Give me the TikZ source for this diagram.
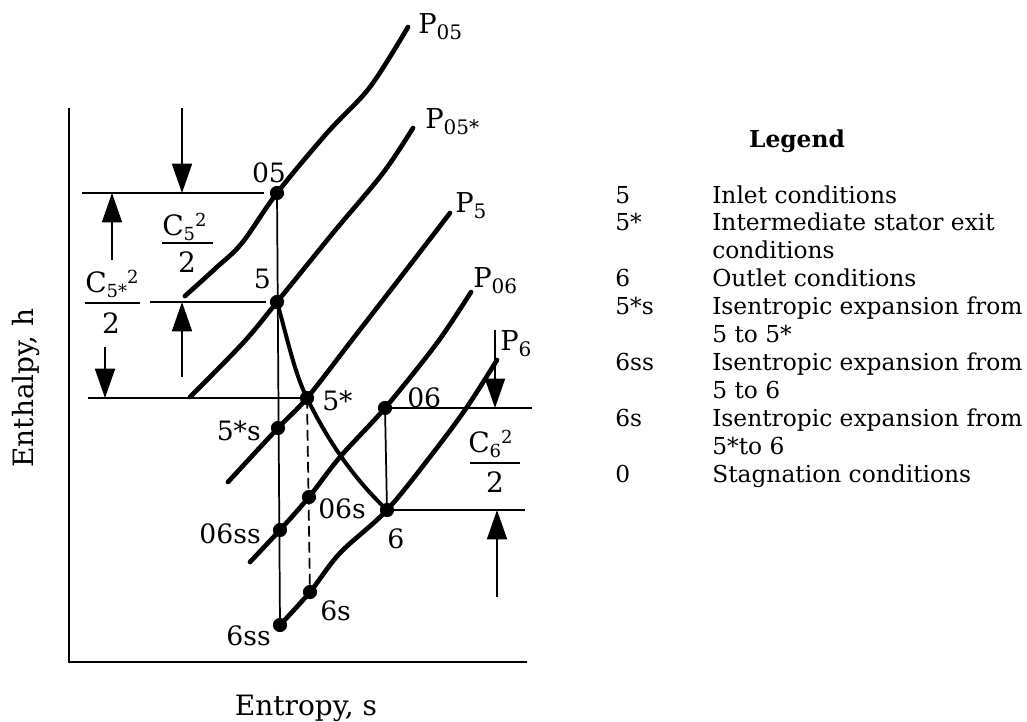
\documentclass[tikz,border=0pt]{standalone}
\usepackage{fontspec}
\setmainfont{DejaVu Serif}
\usetikzlibrary{arrows.meta}
\newcommand\mysubsup[1]{C\raisebox{-3.75pt}{\fontsize{13.5}{14}\selectfont #1}\raisebox{6.5pt}{\fontsize{13.5}{14}\selectfont 2}}
\newcommand\mypsub[1]{P\raisebox{-5pt}{\fontsize{15}{15}\selectfont #1}}
\begin{document}
\begin{tikzpicture}[x=0.75pt,y=-0.75pt,
  isobar/.style={line width=3.5pt,line cap=round,line join=round},
  thinline/.style={line width=1.3pt},
  axisline/.style={line width=1.6pt},
  proc/.style={line width=3pt,line cap=round},
  dim/.style={line width=1.3pt,-{Triangle[length=22pt,width=15pt]}},
  fracbar/.style={line width=1.6pt},
  ptlbl/.style={font=\fontsize{20}{24}\selectfont,inner sep=0pt},
  fraclbl/.style={font=\fontsize{21}{25}\selectfont,inner sep=0pt},
  plbl/.style={font=\fontsize{20.5}{24}\selectfont,inner sep=0pt,anchor=base west},
  axlbl/.style={font=\fontsize{21}{25}\selectfont,inner sep=0pt},
  legkey/.style={font=\fontsize{17.5}{20}\selectfont,inner sep=0pt,anchor=base west},
  legtxt/.style={font=\fontsize{17.5}{20}\selectfont,inner sep=0pt,anchor=base west},
  dotr/.style={fill=black}
]
\useasboundingbox (0,0) rectangle (1027,721);

% state points
\coordinate (c05) at (277,193);
\coordinate (c5) at (277,302);
\coordinate (c5st) at (307,398);
\coordinate (c5sts) at (278,428);
\coordinate (c06) at (385,408);
\coordinate (c06s) at (309,497);
\coordinate (c6) at (387,510);
\coordinate (c06ss) at (280,530);
\coordinate (c6s) at (310,592);
\coordinate (c6ss) at (280,625);

% axes
\coordinate (ytop) at (69,108);
\coordinate (orig) at (69,662);
\coordinate (xend) at (527,662);
\draw[axisline] (ytop) -- (orig) -- (xend);

% thin construction lines
\draw[thinline] (c05) -- (c6ss);
\draw[thinline] (c06) -- (c6);
\draw[thinline,dash pattern=on 8pt off 4pt] (c5st) -- (c6s);
\draw[thinline] (82,193) -- (264,193);
\draw[thinline] (150,302) -- (266,302);
\draw[thinline] (88,398) -- (300,398);
\draw[thinline] (c06) -- (532,408);
\draw[thinline] (c6) -- (525,510);

% isobars
\draw[isobar] plot[smooth,tension=0.55] coordinates {(185,296) (217,267) (242,243) (c05) (327,133) (370,87) (408,27)};
\draw[isobar] plot[smooth,tension=0.55] coordinates {(190,397) (243,343) (c5) (333,233) (383,173) (413,128)};
\draw[isobar] plot[smooth,tension=0.55] coordinates {(228,482) (c5sts) (c5st) (352,340) (400,278) (450,213)};
\draw[isobar] plot[smooth,tension=0.55] coordinates {(250,562) (c06ss) (c06s) (340,457) (c06) (437,343) (471,292)};
\draw[isobar] plot[smooth,tension=0.55] coordinates {(c6ss) (c6s) (340,553) (c6) (433,453) (467,407) (497,360)};

% process curve
\draw[proc] (c5) .. controls (289,345) and (295,374) .. (c5st) .. controls (325,435) and (350,475) .. (c6);

% dots
\foreach \p in {c05,c5,c5st,c5sts,c06,c06s,c6,c06ss,c6s,c6ss}
  \fill[dotr] (\p) circle[radius=5.3pt];

% dimension arrows
\draw[dim] (182,108) -- (182,193);
\draw[dim] (112,260) -- (112,193);
\draw[dim] (182,377) -- (182,302);
\draw[dim] (105,347) -- (105,398);
\draw[dim] (495,330) -- (495,408);
\draw[dim] (497,597) -- (497,510);

% fractions
\node[fraclbl,anchor=base west] (n5) at (162,235) {\mysubsup{5}};
\draw[fracbar] (162,243) -- (213,243);
\node[fraclbl,anchor=base] (d5) at (187,272) {2};
\node[fraclbl,anchor=base west] (n5s) at (85,292) {\mysubsup{5*}};
\draw[fracbar] (85,303) -- (140,303);
\node[fraclbl,anchor=base] (d5s) at (111,333) {2};
\node[fraclbl,anchor=base west] (n6) at (468,452) {\mysubsup{6}};
\draw[fracbar] (470,463) -- (520,463);
\node[fraclbl,anchor=base] (d6) at (495,492) {2};

% point labels
\node[ptlbl,anchor=base] (l05) at (269,182) {05};
\node[ptlbl,anchor=base east] (l5) at (271,288) {5};
\node[ptlbl,anchor=base west] (l5st) at (322,410) {5*};
\node[ptlbl,anchor=base east] (l5sts) at (261,440) {5*s};
\node[ptlbl,anchor=base west] (l06) at (407,407) {06};
\node[ptlbl,anchor=base west] (l06s) at (318,518) {06s};
\node[ptlbl,anchor=base west] (l6) at (387,548) {6};
\node[ptlbl,anchor=base east] (l06ss) at (261,543) {06ss};
\node[ptlbl,anchor=base west] (l6s) at (320,620) {6s};
\node[ptlbl,anchor=base east] (l6ss) at (271,645) {6ss};

% isobar labels
\node[plbl] (lp05) at (418,33) {\mypsub{05}};
\node[plbl] (lp05s) at (425,128) {\mypsub{05*}};
\node[plbl] (lp5) at (455,212) {\mypsub{5}};
\node[plbl] (lp06) at (473,287) {\mypsub{06}};
\node[plbl] (lp6) at (500,350) {\mypsub{6}};

% axis labels
\node[axlbl,rotate=90,anchor=base] (ylab) at (33,388) {Enthalpy, h};
\node[axlbl,anchor=base] (xlab) at (306,715) {Entropy, s};

% legend
\node[font=\fontsize{17.5}{20}\selectfont\bfseries,inner sep=0pt,anchor=base] (leg) at (797,147) {Legend};
\node[legkey] (k1) at (615,203) {5};
\node[legtxt] (t1) at (712,203) {Inlet conditions};
\node[legkey] (k2) at (615,230.9) {5*};
\node[legtxt] (t2) at (712,230.9) {Intermediate stator exit};
\node[legtxt] (t2b) at (712,258.8) {conditions};
\node[legkey] (k3) at (615,286.7) {6};
\node[legtxt] (t3) at (712,286.7) {Outlet conditions};
\node[legkey] (k4) at (615,314.6) {5*s};
\node[legtxt] (t4) at (712,314.6) {Isentropic expansion from};
\node[legtxt] (t4b) at (712,342.5) {5 to 5*};
\node[legkey] (k5) at (615,370.4) {6ss};
\node[legtxt] (t5) at (712,370.4) {Isentropic expansion from};
\node[legtxt] (t5b) at (712,398.3) {5 to 6};
\node[legkey] (k6) at (615,426.2) {6s};
\node[legtxt] (t6) at (712,426.2) {Isentropic expansion from};
\node[legtxt] (t6b) at (712,454.1) {5*to 6};
\node[legkey] (k7) at (615,482) {0};
\node[legtxt] (t7) at (712,482) {Stagnation conditions};
\end{tikzpicture}
\end{document}
